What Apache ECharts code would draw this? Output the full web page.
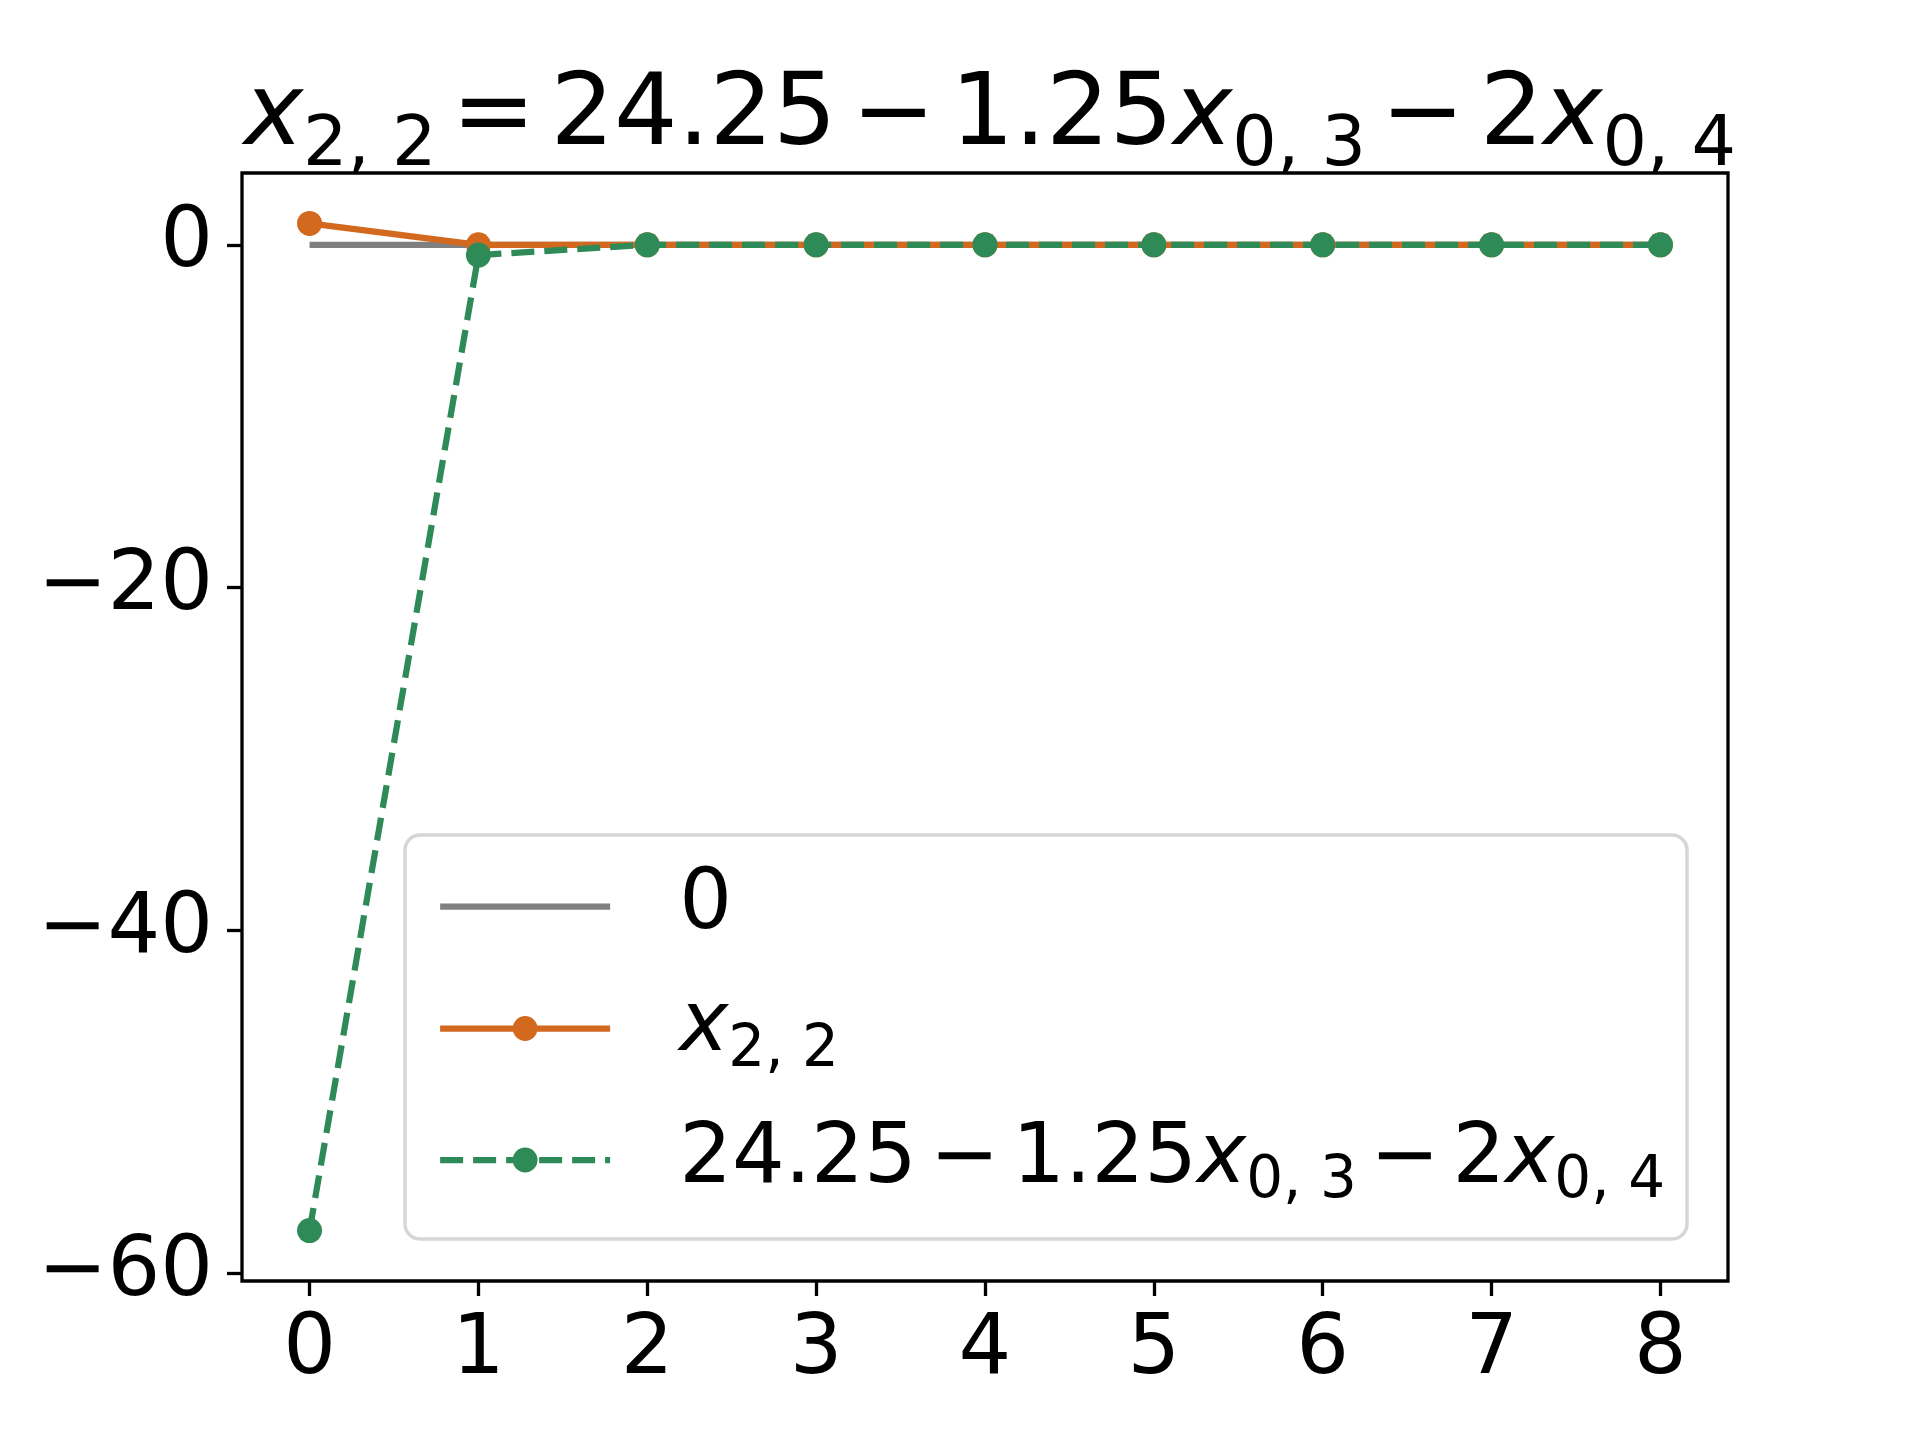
<!DOCTYPE html>
<html>
<head>
<meta charset="utf-8">
<script src="https://cdn.jsdelivr.net/npm/echarts@6/dist/echarts.min.js"></script>
<style>
  html, body { margin: 0; padding: 0; background: #fff; }
  #chart { width: 1920px; height: 1440px; }
</style>
</head>
<body>
<div id="chart"></div>
<script>
// data
const steps = [0, 1, 2, 3, 4, 5, 6, 7, 8];
const zeroLine = [0, 0, 0, 0, 0, 0, 0, 0, 0];
const x22 = [1.25, 0, 0, 0, 0, 0, 0, 0, 0];
const rhs = [-57.5, -0.6, 0, 0, 0, 0, 0, 0, 0];
const yTicks = [-60, -40, -20, 0];

const FONT = 'DejaVu Sans';
const pairs = (ys) => steps.map((x, i) => [x, ys[i]]);

const chart = echarts.init(document.getElementById('chart'));

const axisCommon = {
  splitLine: { show: false },
  axisLine: { show: false, onZero: false },
  axisTick: { show: true, length: 15, lineStyle: { color: '#000', width: 3.3 } },
  axisLabel: { color: '#000', fontFamily: FONT, fontSize: 83, margin: 29 }
};

// mathtext-like pieces: n = upright, xi = italic variable, sub = subscript, op = binary operator
const legendRich = {
  n: { fontFamily: FONT, fontSize: 83, lineHeight: 100, color: '#000' },
  xi: { fontFamily: FONT, fontSize: 83, fontStyle: 'italic', lineHeight: 100, color: '#000' },
  op: { fontFamily: FONT, fontSize: 83, color: '#000', padding: [0, 13, 0, 13] },
  sub: { fontFamily: FONT, fontSize: 58, color: '#000', padding: [44, 0, 0, 0] }
};

const titleRich = {
  n: { fontFamily: FONT, fontSize: 100, fontWeight: 'normal', lineHeight: 130, color: '#000' },
  xi: { fontFamily: FONT, fontSize: 100, fontWeight: 'normal', fontStyle: 'italic', lineHeight: 130, color: '#000' },
  op: { fontFamily: FONT, fontSize: 100, fontWeight: 'normal', color: '#000', padding: [0, 15, 0, 15] },
  sub: { fontFamily: FONT, fontSize: 70, fontWeight: 'normal', color: '#000', padding: [58, 0, 0, 0] }
};

const labels = {
  '0': '{n|0}',
  'x22': '{xi|x}{sub|2, 2}',
  'rhs': '{n|24.25}{op|−}{n|1.25}{xi|x}{sub|0, 3}{op|−}{n|2}{xi|x}{sub|0, 4}'
};

const option = {
  animation: false,
  backgroundColor: '#fff',
  title: {
    text: '{xi|x}{sub|2, 2}{op|=}{n|24.25}{op|−}{n|1.25}{xi|x}{sub|0, 3}{op|−}{n|2}{xi|x}{sub|0, 4}',
    left: 985,
    top: 48,
    textAlign: 'center',
    textStyle: { fontWeight: 'normal', rich: titleRich }
  },
  grid: {
    left: 242, right: 192, top: 173, bottom: 159,
    show: true, borderColor: '#000', borderWidth: 3.3, backgroundColor: 'transparent'
  },
  legend: {
    orient: 'vertical',
    left: 405,
    top: 835,
    padding: [30, 22, 28, 32],
    itemGap: 39,
    itemWidth: 170,
    itemHeight: 31,
    backgroundColor: 'rgba(255,255,255,0.8)',
    borderColor: '#d6d6d6',
    borderWidth: 3.5,
    borderRadius: 15,
    lineStyle: { width: 6.25 },
    textStyle: { padding: [0, 0, 0, 64], rich: legendRich },
    formatter: (name) => labels[name],
    data: [
      { name: '0', icon: 'path://M0,0H170V6.25H0Z' },
      { name: 'x22' },
      { name: 'rhs' }
    ]
  },
  xAxis: Object.assign({}, axisCommon, {
    type: 'value',
    min: -0.4,
    max: 8.4,
    axisTick: Object.assign({}, axisCommon.axisTick, { customValues: steps }),
    axisLabel: Object.assign({}, axisCommon.axisLabel, { customValues: steps })
  }),
  yAxis: Object.assign({}, axisCommon, {
    type: 'value',
    min: -60.44,
    max: 4.19,
    axisTick: Object.assign({}, axisCommon.axisTick, { customValues: yTicks }),
    axisLabel: Object.assign({}, axisCommon.axisLabel, {
      customValues: yTicks,
      formatter: (v) => (v < 0 ? '\u2212' + (-v) : String(v))
    })
  }),
  series: [
    {
      name: '0', type: 'line', data: pairs(zeroLine), showSymbol: false, symbol: 'none',
      color: '#808080', lineStyle: { color: '#808080', width: 6.25 }, z: 1
    },
    {
      name: 'x22', type: 'line', data: pairs(x22), symbol: 'circle', symbolSize: 25,
      color: '#d2691e', itemStyle: { color: '#d2691e' },
      lineStyle: { color: '#d2691e', width: 6.25 }, z: 2
    },
    {
      name: 'rhs', type: 'line', data: pairs(rhs), symbol: 'circle', symbolSize: 25,
      color: '#2e8b57', itemStyle: { color: '#2e8b57' },
      lineStyle: { color: '#2e8b57', width: 6.25, type: [23, 10] }, z: 3
    }
  ]
};

chart.setOption(option);
</script>
</body>
</html>
